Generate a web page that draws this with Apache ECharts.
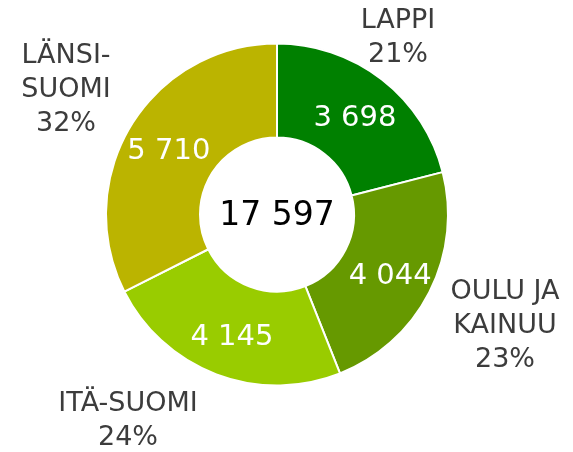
<!DOCTYPE html>
<html>
<head>
<meta charset="utf-8">
<script src="https://cdn.jsdelivr.net/npm/echarts@6/dist/echarts.min.js"></script>
<style>
html,body{margin:0;padding:0;background:#fff;}
#chart{width:573px;height:452px;}
</style>
</head>
<body>
<div id="chart"></div>
<script>
const categories = ['LAPPI', 'OULU JA\nKAINUU', 'ITÄ-SUOMI', 'LÄNSI-\nSUOMI'];
const values = [3698, 4044, 4145, 5710];
const colors = ['#008000', '#669900', '#99CC00', '#BBB400'];

// text-box centres of the outside labels (layout only)
const outerLabelCenters = [[398, 38], [505, 326], [128, 421], [66, 90]];

const total = values.reduce((a, b) => a + b, 0);
const fmt = v => String(v).replace(/\B(?=(\d{3})+(?!\d))/g, ' ');

const seriesData = categories.map((c, i) => ({
  name: c, value: values[i], itemStyle: { color: colors[i] }
}));

const chart = echarts.init(document.getElementById('chart'), null, { renderer: 'canvas' });
const font = 'DejaVu Sans, Verdana, sans-serif';
chart.setOption({
  animation: false,
  series: [
    {
      type: 'pie',
      center: [277, 214.5],
      radius: [77, 171],
      startAngle: 90,
      clockwise: true,
      silent: true,
      z: 2,
      itemStyle: { borderColor: '#ffffff', borderWidth: 2 },
      label: {
        position: 'inside',
        color: '#ffffff',
        fontFamily: font,
        fontSize: 29,
        offset: [0, 4],
        formatter: p => fmt(p.value)
      },
      labelLine: { show: false },
      data: seriesData
    },
    {
      type: 'pie',
      center: [277, 214.5],
      radius: [77, 171],
      startAngle: 90,
      clockwise: true,
      silent: true,
      z: 1,
      itemStyle: { color: 'rgba(0,0,0,0)', borderWidth: 0 },
      label: {
        show: true,
        position: 'outside',
        color: '#3c3c3c',
        fontFamily: font,
        fontSize: 27,
        lineHeight: 34,
        align: 'center',
        overflow: 'none',
        width: 220,
        formatter: p => p.name + '\n' + Math.round(p.value / total * 100) + '%'
      },
      labelLine: { show: false },
      labelLayout: p => ({
        x: outerLabelCenters[p.dataIndex][0],
        y: outerLabelCenters[p.dataIndex][1],
        align: 'center',
        verticalAlign: 'middle',
        hideOverlap: false
      }),
      data: categories.map((c, i) => ({ name: c, value: values[i] }))
    }
  ],
  graphic: [{
    type: 'text',
    x: 277,
    y: 216,
    style: {
      text: fmt(total),
      fill: '#000000',
      font: '33px DejaVu Sans, Verdana, sans-serif',
      textAlign: 'center',
      textVerticalAlign: 'middle'
    }
  }]
});
</script>
</body>
</html>
